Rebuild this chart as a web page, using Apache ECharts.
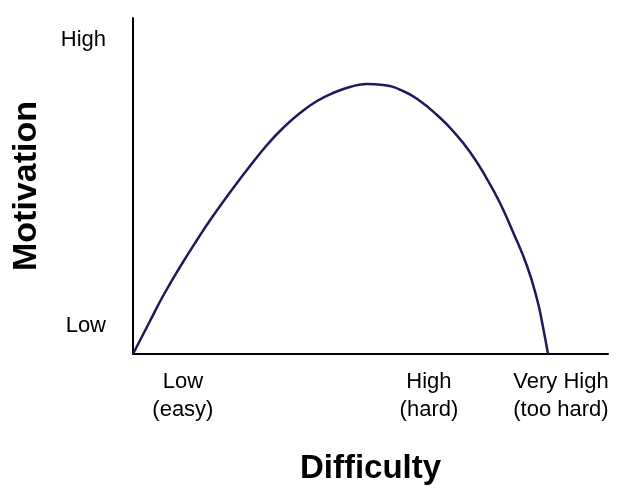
<!DOCTYPE html>
<html>
<head>
<meta charset="utf-8">
<script src="https://cdn.jsdelivr.net/npm/echarts@6/dist/echarts.min.js"></script>
<style>html,body{margin:0;padding:0;background:#fff;}#c{width:623px;height:493px;}</style>
</head>
<body>
<div id="c"></div>
<script>
// Curve samples: difficulty (0-100) vs motivation (0-100)
const difficulty = [0, 3.58, 6.32, 9.89, 13.47, 16.84, 21.89, 24.63, 28.21, 31.58, 35.16, 38.74, 42.11, 45.68, 49.26, 52.63, 56.84, 60.42, 64.0, 67.37, 70.95, 74.53, 77.26, 80.0, 82.95, 85.05, 86.11, 87.37];
const motivation = [0, 9.82, 17.26, 25.89, 33.93, 41.07, 50.89, 55.95, 62.2, 67.26, 71.73, 75.3, 77.68, 79.46, 80.36, 80.06, 78.27, 75.3, 71.13, 66.37, 60.12, 52.08, 44.94, 36.31, 26.19, 16.37, 9.52, 0];
// Tick labels
const xTickValues = [10.5, 62.3, 90.1];
const xTickLabels = ['Low\n(easy)', 'High\n(hard)', 'Very High\n(too hard)'];
const yTickValues = [8.3, 93.5];
const yTickLabels = ['Low', 'High'];

const font = '"Liberation Sans", Arial, sans-serif';
const chart = echarts.init(document.getElementById('c'));
chart.setOption({
  animation: false,
  backgroundColor: '#fff',
  grid: { left: 133, right: 15, top: 18, bottom: 139, containLabel: false },
  xAxis: {
    type: 'value', min: 0, max: 100,
    name: 'Difficulty', nameLocation: 'middle', nameGap: 98,
    nameTextStyle: { fontFamily: font, fontSize: 33, fontWeight: 'bold', color: '#000' },
    axisLine: { show: true, onZero: false, lineStyle: { color: '#000', width: 2 } },
    axisTick: { show: false },
    splitLine: { show: false },
    axisLabel: {
      customValues: xTickValues,
      formatter: v => { const i = xTickValues.indexOf(v); return i >= 0 ? xTickLabels[i] : ''; },
      fontFamily: font, fontSize: 22, lineHeight: 28, color: '#000', margin: 14
    }
  },
  yAxis: {
    type: 'value', min: 0, max: 100,
    name: 'Motivation', nameLocation: 'middle', nameGap: 89,
    nameTextStyle: { fontFamily: font, fontSize: 34, fontWeight: 'bold', color: '#000' },
    axisLine: { show: true, onZero: false, lineStyle: { color: '#000', width: 2 } },
    axisTick: { show: false },
    splitLine: { show: false },
    axisLabel: {
      customValues: yTickValues,
      formatter: v => { const i = yTickValues.indexOf(v); return i >= 0 ? yTickLabels[i] : ''; },
      fontFamily: font, fontSize: 22, color: '#000', margin: 27
    }
  },
  series: [{
    type: 'line',
    data: difficulty.map((d, i) => [d, motivation[i]]),
    smooth: 0.5,
    showSymbol: false,
    lineStyle: { color: '#1c1a5c', width: 2.5 }
  }]
});
</script>
</body>
</html>
